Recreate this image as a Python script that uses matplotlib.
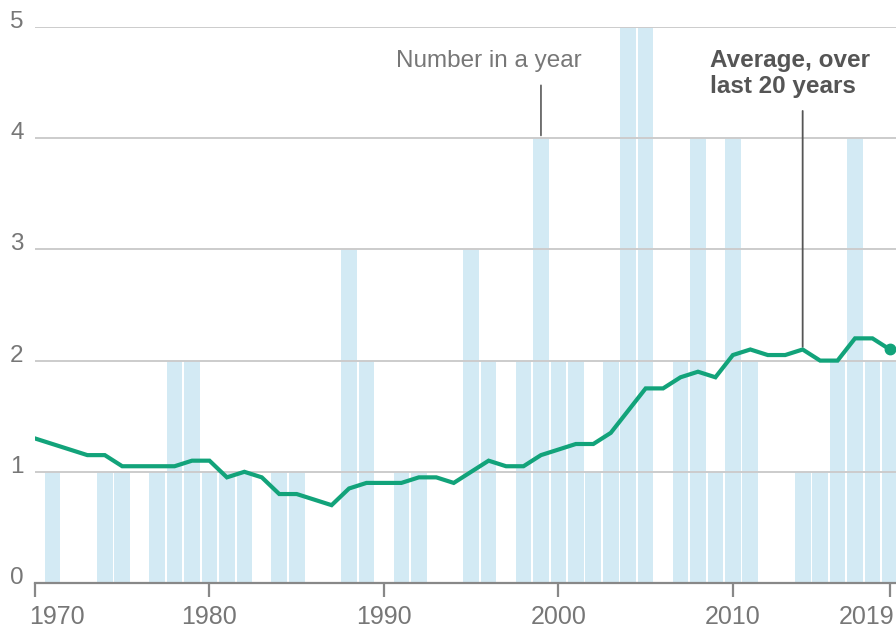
import matplotlib
matplotlib.use('Agg')
import matplotlib.pyplot as plt
import matplotlib.transforms as mtransforms

plt.rcParams['font.family'] = ['Liberation Sans', 'DejaVu Sans']

# data
years = list(range(1970, 2020))
counts = [0, 1, 0, 0, 1, 1, 0, 1, 2, 2,
          1, 1, 1, 0, 1, 1, 0, 0, 3, 2,
          0, 1, 1, 0, 0, 3, 2, 0, 2, 4,
          2, 2, 1, 2, 5, 5, 0, 2, 4, 1,
          4, 2, 0, 0, 1, 1, 2, 4, 2, 2]
avg20 = [1.3, 1.25, 1.2, 1.15, 1.15, 1.05, 1.05, 1.05, 1.05, 1.1,
         1.1, 0.95, 1.0, 0.95, 0.8, 0.8, 0.75, 0.7, 0.85, 0.9,
         0.9, 0.9, 0.95, 0.95, 0.9, 1.0, 1.1, 1.05, 1.05, 1.15,
         1.2, 1.25, 1.25, 1.35, 1.55, 1.75, 1.75, 1.85, 1.9, 1.85,
         2.05, 2.1, 2.05, 2.05, 2.1, 2.0, 2.0, 2.2, 2.2, 2.1]
yticks = [0, 1, 2, 3, 4, 5]
xticks = [1970, 1980, 1990, 2000, 2010, 2019]

bar_color = '#d3eaf4'
line_color = '#12a37a'
grid_color = '#cccccc'
text_color = '#777777'

fig = plt.figure(figsize=(8.96, 6.32), dpi=100)
ax = fig.add_axes([35 / 896, 1 - 583 / 632, 1 - 35 / 896, (583 - 27) / 632])

ax.bar(years, counts, width=0.9, color=bar_color, zorder=1)
for y in yticks[1:]:
    ax.axhline(y, color=grid_color, lw=1.4, zorder=2)
ax.plot(years, avg20, color=line_color, lw=3, zorder=3, solid_joinstyle='miter')
ax.plot(years[-1], avg20[-1], 'o', color=line_color, ms=7.5, zorder=4, clip_on=False)

ax.set_xlim(1970, 2019.35)
ax.set_ylim(0, 5)

for s in ['top', 'right', 'left']:
    ax.spines[s].set_visible(False)
ax.spines['bottom'].set_color('#888888')
ax.spines['bottom'].set_linewidth(1.6)
ax.spines['bottom'].set_zorder(5)

ax.set_xticks(xticks)
ax.set_xticklabels([str(x) for x in xticks])
ax.tick_params(axis='x', length=10, width=1.6, color='#888888', pad=6,
               labelsize=18, labelcolor=text_color)
ax.set_yticks([])

# first and last year labels are pulled inside the figure
labels = ax.get_xticklabels()
labels[0].set_ha('left')
labels[0].set_transform(labels[0].get_transform() +
                        mtransforms.ScaledTranslation(-6 / 100, 0, fig.dpi_scale_trans))
labels[-1].set_ha('right')
labels[-1].set_transform(labels[-1].get_transform() +
                         mtransforms.ScaledTranslation(4 / 100, 0, fig.dpi_scale_trans))

# y labels sit just above their gridlines
offset = mtransforms.offset_copy(ax.get_yaxis_transform(), fig=fig, x=0, y=5, units='dots')
for y in yticks:
    ax.text(-0.021, y, str(y), transform=offset, ha='center', va='center',
            fontsize=17.5, color=text_color, clip_on=False)

# annotations
ax.annotate('', xy=(1999, 4), xytext=(1999, 4.5),
            arrowprops=dict(arrowstyle='-', color='#666666', lw=1.3))
ax.text(1996, 4.69, 'Number in a year', ha='center', va='center',
        fontsize=17.5, color=text_color)

ax.annotate('', xy=(2014, 2.1), xytext=(2014, 4.27),
            arrowprops=dict(arrowstyle='-', color='#555555', lw=1.3))
ax.text(2008.7, 4.58, 'Average, over\nlast 20 years', ha='left', va='center',
        fontsize=17.5, fontweight='bold', color='#555555', linespacing=1.15)

plt.savefig('out.png', dpi=100)
